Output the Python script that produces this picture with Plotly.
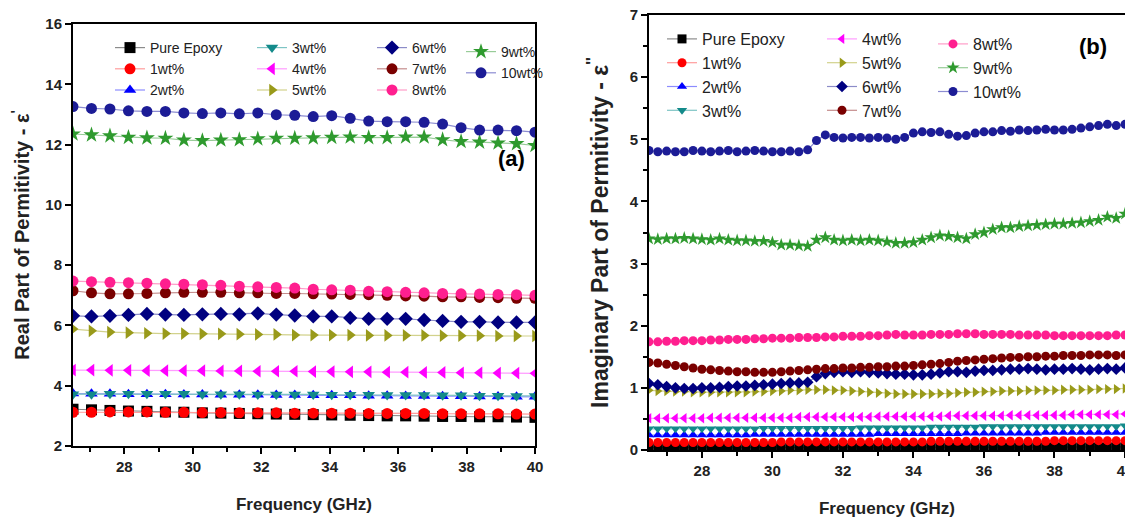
import plotly.graph_objects as go

# ---------------- data ----------------
names = ["Pure Epoxy", "1wt%", "2wt%", "3wt%", "4wt%", "5wt%", "6wt%", "7wt%", "8wt%", "9wt%", "10wt%"]

freq_a = [26.5, 27.04, 27.58, 28.12, 28.66, 29.2, 29.74, 30.28, 30.82, 31.36, 31.9, 32.44, 32.98,
          33.52, 34.06, 34.6, 35.14, 35.68, 36.22, 36.76, 37.3, 37.84, 38.38, 38.92, 39.46, 40.0]

real_pure = [3.22, 3.2, 3.18, 3.16, 3.15, 3.13, 3.12, 3.1, 3.09, 3.08, 3.07, 3.06, 3.05, 3.04, 3.03, 3.02, 3.01, 3.0, 3.0, 2.99, 2.98, 2.98, 2.97, 2.97, 2.96, 2.95]
real_1 = [3.12, 3.12, 3.13, 3.13, 3.13, 3.12, 3.12, 3.11, 3.11, 3.1, 3.1, 3.1, 3.09, 3.09, 3.09, 3.09, 3.08, 3.08, 3.08, 3.08, 3.07, 3.07, 3.07, 3.07, 3.06, 3.06]
real_2 = [3.74, 3.73, 3.73, 3.72, 3.72, 3.72, 3.71, 3.71, 3.7, 3.7, 3.7, 3.69, 3.69, 3.68, 3.68, 3.68, 3.67, 3.67, 3.66, 3.66, 3.65, 3.65, 3.64, 3.64, 3.63, 3.63]
real_3 = [3.72, 3.72, 3.73, 3.73, 3.73, 3.73, 3.73, 3.72, 3.72, 3.72, 3.71, 3.71, 3.71, 3.71, 3.7, 3.7, 3.7, 3.69, 3.69, 3.69, 3.68, 3.68, 3.67, 3.67, 3.66, 3.66]
real_4 = [4.52, 4.52, 4.51, 4.51, 4.5, 4.5, 4.5, 4.5, 4.49, 4.49, 4.48, 4.48, 4.48, 4.47, 4.47, 4.46, 4.46, 4.45, 4.45, 4.44, 4.44, 4.43, 4.43, 4.42, 4.42, 4.41]
real_5 = [5.88, 5.82, 5.78, 5.76, 5.74, 5.73, 5.73, 5.72, 5.72, 5.71, 5.7, 5.7, 5.68, 5.68, 5.68, 5.68, 5.67, 5.67, 5.67, 5.67, 5.66, 5.66, 5.66, 5.65, 5.65, 5.65]
real_6 = [6.32, 6.3, 6.32, 6.35, 6.38, 6.36, 6.35, 6.37, 6.38, 6.37, 6.4, 6.36, 6.33, 6.3, 6.3, 6.25, 6.22, 6.22, 6.22, 6.18, 6.15, 6.12, 6.12, 6.1, 6.1, 6.1]
real_7 = [7.15, 7.08, 7.05, 7.05, 7.06, 7.08, 7.1, 7.1, 7.1, 7.08, 7.08, 7.06, 7.06, 7.05, 7.04, 7.03, 7.02, 7.0, 6.98, 6.97, 6.95, 6.95, 6.93, 6.92, 6.9, 6.9]
real_8 = [7.47, 7.45, 7.43, 7.42, 7.4, 7.38, 7.37, 7.35, 7.33, 7.3, 7.28, 7.26, 7.24, 7.2, 7.18, 7.17, 7.13, 7.12, 7.1, 7.08, 7.06, 7.05, 7.04, 7.03, 7.02, 7.0]
real_9 = [12.35, 12.32, 12.29, 12.24, 12.22, 12.21, 12.15, 12.13, 12.15, 12.16, 12.19, 12.21, 12.21, 12.22, 12.24, 12.25, 12.23, 12.23, 12.25, 12.25, 12.16, 12.1, 12.08, 12.05, 12.03, 11.97]
real_10 = [13.26, 13.2, 13.18, 13.12, 13.1, 13.1, 13.05, 13.03, 13.05, 13.02, 13.05, 12.99, 12.97, 12.93, 12.96, 12.87, 12.78, 12.76, 12.76, 12.74, 12.68, 12.56, 12.48, 12.48, 12.46, 12.41]

freq_b = [26.5, 26.75, 27.0, 27.25, 27.5, 27.75, 28.0, 28.25, 28.5, 28.75, 29.0, 29.25, 29.5, 29.75,
          30.0, 30.25, 30.5, 30.75, 31.0, 31.25, 31.5, 31.75, 32.0, 32.25, 32.5, 32.75, 33.0, 33.25,
          33.5, 33.75, 34.0, 34.25, 34.5, 34.75, 35.0, 35.25, 35.5, 35.75, 36.0, 36.25, 36.5, 36.75,
          37.0, 37.25, 37.5, 37.75, 38.0, 38.25, 38.5, 38.75, 39.0, 39.25, 39.5, 39.75, 40.0]

imag_pure = [0.04, 0.04, 0.04, 0.04, 0.04, 0.04, 0.04, 0.04, 0.04, 0.04, 0.04, 0.04, 0.04, 0.04, 0.04, 0.04, 0.04, 0.04, 0.04,
             0.04, 0.04, 0.04, 0.04, 0.04, 0.04, 0.04, 0.04, 0.04, 0.04, 0.04, 0.05, 0.05, 0.05, 0.05, 0.05, 0.05, 0.05, 0.05,
             0.05, 0.05, 0.05, 0.05, 0.05, 0.05, 0.05, 0.05, 0.05, 0.05, 0.05, 0.05, 0.05, 0.05, 0.05, 0.05, 0.05]
imag_1 = [0.12, 0.12, 0.12, 0.12, 0.12, 0.12, 0.12, 0.12, 0.12, 0.12, 0.12, 0.12, 0.12, 0.12, 0.12, 0.13, 0.13, 0.13, 0.13,
          0.13, 0.13, 0.13, 0.13, 0.13, 0.13, 0.13, 0.13, 0.13, 0.13, 0.13, 0.13, 0.13, 0.14, 0.14, 0.14, 0.14, 0.14, 0.14,
          0.14, 0.14, 0.14, 0.14, 0.14, 0.14, 0.14, 0.14, 0.15, 0.15, 0.15, 0.15, 0.15, 0.15, 0.15, 0.15, 0.15]
imag_2 = [0.24, 0.24, 0.24, 0.24, 0.24, 0.24, 0.24, 0.24, 0.24, 0.24, 0.24, 0.24, 0.25, 0.25, 0.25, 0.25, 0.25, 0.25, 0.25,
          0.25, 0.25, 0.25, 0.25, 0.25, 0.25, 0.25, 0.26, 0.26, 0.26, 0.26, 0.26, 0.26, 0.26, 0.26, 0.26, 0.26, 0.27, 0.27,
          0.27, 0.27, 0.27, 0.27, 0.27, 0.27, 0.27, 0.28, 0.28, 0.28, 0.28, 0.28, 0.28, 0.28, 0.28, 0.28, 0.28]
imag_3 = [0.34, 0.34, 0.34, 0.34, 0.34, 0.34, 0.34, 0.34, 0.34, 0.34, 0.34, 0.34, 0.34, 0.35, 0.35, 0.35, 0.35, 0.35, 0.35,
          0.35, 0.35, 0.35, 0.35, 0.35, 0.36, 0.36, 0.36, 0.36, 0.36, 0.36, 0.36, 0.36, 0.37, 0.37, 0.37, 0.37, 0.37, 0.37,
          0.38, 0.38, 0.38, 0.38, 0.38, 0.38, 0.38, 0.38, 0.38, 0.38, 0.38, 0.38, 0.38, 0.38, 0.38, 0.38, 0.39]
imag_4 = [0.51, 0.51, 0.51, 0.51, 0.51, 0.51, 0.51, 0.52, 0.52, 0.52, 0.52, 0.52, 0.52, 0.52, 0.52, 0.52, 0.52, 0.53, 0.53,
          0.53, 0.53, 0.53, 0.53, 0.53, 0.53, 0.53, 0.54, 0.54, 0.54, 0.54, 0.54, 0.54, 0.54, 0.54, 0.55, 0.55, 0.55, 0.55,
          0.55, 0.55, 0.55, 0.56, 0.56, 0.56, 0.56, 0.56, 0.56, 0.56, 0.57, 0.57, 0.57, 0.57, 0.57, 0.57, 0.58]
imag_5 = [0.96, 0.95, 0.95, 0.94, 0.94, 0.93, 0.93, 0.93, 0.93, 0.93, 0.93, 0.93, 0.94, 0.94, 0.95, 0.95, 0.96, 0.96, 0.97,
          0.97, 0.97, 0.96, 0.96, 0.95, 0.94, 0.93, 0.92, 0.91, 0.9, 0.9, 0.9, 0.9, 0.9, 0.91, 0.91, 0.92, 0.93, 0.93,
          0.94, 0.94, 0.95, 0.95, 0.95, 0.96, 0.96, 0.96, 0.96, 0.97, 0.97, 0.97, 0.97, 0.98, 0.98, 0.98, 0.99]
imag_6 = [1.07, 1.05, 1.02, 1.0, 0.99, 0.99, 1.0, 1.0, 1.01, 1.02, 1.03, 1.03, 1.04, 1.05, 1.06, 1.07, 1.08, 1.08, 1.09,
          1.18, 1.23, 1.25, 1.26, 1.25, 1.26, 1.25, 1.24, 1.23, 1.22, 1.22, 1.21, 1.21, 1.22, 1.24, 1.26, 1.26, 1.25, 1.27,
          1.28, 1.28, 1.29, 1.3, 1.3, 1.31, 1.3, 1.29, 1.3, 1.3, 1.31, 1.3, 1.29, 1.3, 1.31, 1.3, 1.32]
imag_7 = [1.41, 1.4, 1.38, 1.36, 1.34, 1.32, 1.3, 1.29, 1.28, 1.27, 1.26, 1.26, 1.25, 1.25, 1.25, 1.26, 1.27, 1.28, 1.29,
          1.3, 1.31, 1.31, 1.32, 1.32, 1.33, 1.33, 1.34, 1.34, 1.35, 1.35, 1.36, 1.37, 1.38, 1.39, 1.41, 1.43, 1.44, 1.45,
          1.46, 1.47, 1.48, 1.49, 1.49, 1.5, 1.5, 1.51, 1.51, 1.52, 1.52, 1.52, 1.53, 1.53, 1.53, 1.52, 1.53]
imag_8 = [1.74, 1.74, 1.75, 1.75, 1.76, 1.76, 1.76, 1.77, 1.77, 1.78, 1.78, 1.78, 1.79, 1.79, 1.8, 1.8, 1.8, 1.81, 1.81,
          1.81, 1.82, 1.82, 1.83, 1.83, 1.83, 1.84, 1.84, 1.85, 1.86, 1.85, 1.85, 1.85, 1.86, 1.86, 1.86, 1.87, 1.87, 1.87,
          1.86, 1.86, 1.86, 1.86, 1.85, 1.85, 1.85, 1.85, 1.84, 1.84, 1.84, 1.84, 1.84, 1.84, 1.84, 1.85, 1.85]
imag_9 = [3.4, 3.39, 3.4, 3.4, 3.41, 3.4, 3.39, 3.38, 3.4, 3.38, 3.37, 3.37, 3.36, 3.36, 3.34, 3.3, 3.3, 3.29, 3.28,
          3.38, 3.42, 3.38, 3.37, 3.38, 3.37, 3.38, 3.37, 3.35, 3.33, 3.33, 3.34, 3.38, 3.42, 3.45, 3.44, 3.42, 3.4, 3.47,
          3.5, 3.55, 3.58, 3.58, 3.6, 3.61, 3.62, 3.63, 3.64, 3.64, 3.65, 3.66, 3.68, 3.7, 3.75, 3.73, 3.8]
imag_10 = [4.82, 4.8, 4.81, 4.8, 4.8, 4.82, 4.81, 4.8, 4.81, 4.82, 4.8, 4.81, 4.82, 4.81, 4.8, 4.8, 4.81, 4.8, 4.83,
           4.98, 5.07, 5.03, 5.02, 5.03, 5.03, 5.02, 5.03, 5.02, 5.0, 5.03, 5.1, 5.12, 5.11, 5.12, 5.08, 5.05, 5.06, 5.1,
           5.12, 5.12, 5.14, 5.13, 5.15, 5.14, 5.15, 5.16, 5.15, 5.15, 5.16, 5.18, 5.2, 5.22, 5.24, 5.22, 5.24]

real_series = [real_pure, real_1, real_2, real_3, real_4, real_5, real_6, real_7, real_8, real_9, real_10]
imag_series = [imag_pure, imag_1, imag_2, imag_3, imag_4, imag_5, imag_6, imag_7, imag_8, imag_9, imag_10]

# ---------------- styles ----------------
marker_colors = ["#000000", "#ff0000", "#0000ff", "#138a8a", "#ff00ff", "#999a1a",
                 "#000080", "#7a0000", "#ff1f8f", "#2e9a2e", "#1c1c96"]
line_colors = ["#8c8c8c", "#ff9c9c", "#8c8cff", "#7ec4c4", "#ff9cff", "#d2d28c",
               "#8c8cc8", "#c48c8c", "#ff9cc8", "#98cc98", "#8c8cd2"]
symbols = ["square", "circle", "triangle-up", "triangle-down", "triangle-left", "triangle-right",
           "diamond", "circle", "circle", "star", "circle"]

legend_a_cols = [[0, 1, 2], [3, 4, 5], [6, 7, 8], [9, 10]]
legend_b_cols = [[0, 1, 2, 3], [4, 5, 6, 7], [8, 9, 10]]

# the page body has an 8px default margin, so the figure is 8px smaller
# and every page-pixel position is shifted by OFF
OFF = 8
W, H = 1133 - OFF, 518 - OFF
FONT = "Liberation Sans, Arial, sans-serif"

# plot-area page-pixel boxes
ax_a = dict(l=73, r=535, t=24, b=446)
ax_b = dict(l=649, r=1125, t=15, b=450)


def px(x):
    return (x - OFF) / W


def py(y):
    return 1 - (y - OFF) / H


def dom_x(box):
    return [px(box["l"]), px(box["r"])]


def dom_y(box):
    return [py(box["b"]), py(box["t"])]


fig = go.Figure()

legend_of_a = {}
for ci, col in enumerate(legend_a_cols):
    for i in col:
        legend_of_a[i] = "legend" if ci == 0 else f"legend{ci + 1}"
legend_of_b = {}
for ci, col in enumerate(legend_b_cols):
    for i in col:
        legend_of_b[i] = f"legend{ci + 5}"

for i, name in enumerate(names):
    fig.add_trace(go.Scatter(
        x=freq_a, y=real_series[i], mode="lines+markers", name=name,
        xaxis="x", yaxis="y", legend=legend_of_a[i],
        line=dict(color=line_colors[i], width=1.2),
        marker=dict(symbol=symbols[i], size=11 if symbols[i] != "star" else 12,
                    color=marker_colors[i], line=dict(width=0)),
    ))
for i, name in enumerate(names):
    fig.add_trace(go.Scatter(
        x=freq_b, y=imag_series[i], mode="lines+markers", name=name,
        xaxis="x2", yaxis="y2", legend=legend_of_b[i],
        line=dict(color=line_colors[i], width=1.2),
        marker=dict(symbol=symbols[i], size=9 if symbols[i] != "star" else 10,
                    color=marker_colors[i], line=dict(width=0)),
    ))

axis_common = dict(
    showline=True, linecolor="black", linewidth=2, mirror=True,
    ticks="outside", ticklen=6, tickwidth=1.5, tickcolor="black",
    showgrid=False, zeroline=False, ticklabeloverflow="allow",
    tickfont=dict(family=FONT, size=15, color="#222", weight="bold"),
)
xtitle_font = dict(family=FONT, size=17, color="#222", weight="bold")
ytitle_font_a = dict(family=FONT, size=20, color="#222", weight="bold")
ytitle_font_b = dict(family=FONT, size=23, color="#222", weight="bold")
minor_x = dict(tickvals=[27, 29, 31, 33, 35, 37, 39], ticks="outside", ticklen=4, tickwidth=1.5, tickcolor="black")

fig.update_layout(
    width=W, height=H,
    margin=dict(l=0, r=0, t=0, b=0, autoexpand=False),
    paper_bgcolor="white", plot_bgcolor="white",
    xaxis=dict(domain=dom_x(ax_a), anchor="y", range=[26.5, 40], tickvals=[28, 30, 32, 34, 36, 38, 40],
               minor=minor_x,
               title=dict(text="Frequency (GHz)", font=xtitle_font, standoff=24),
               **axis_common),
    yaxis=dict(domain=dom_y(ax_a), anchor="x", range=[2, 16], tickvals=[2, 4, 6, 8, 10, 12, 14, 16],
               title=dict(text="Real Part of Permitivity - ε<sup>'</sup>", font=ytitle_font_a, standoff=12),
               **axis_common),
    xaxis2=dict(domain=dom_x(ax_b), anchor="y2", range=[26.5, 40], tickvals=[28, 30, 32, 34, 36, 38, 40],
                minor=minor_x,
                title=dict(text="Frequency (GHz)", font=xtitle_font, standoff=24),
                **axis_common),
    yaxis2=dict(domain=dom_y(ax_b), anchor="x2", range=[0, 7], tickvals=[0, 1, 2, 3, 4, 5, 6, 7],
                minor=dict(tickvals=[0.5, 1.5, 2.5, 3.5, 4.5, 5.5, 6.5], ticks="outside", ticklen=4,
                           tickwidth=1.5, tickcolor="black"),
                title=dict(text="Imaginary Part of Permitivity - ε<sup>''</sup>", font=ytitle_font_b, standoff=15),
                **axis_common),
)

# legends (one per column, as in the original multi-column legends), page-pixel top-left corners
leg_a_pos = [(110, 32), (252, 32), (372, 32), (461, 36)]
for ci, (lx, ly) in enumerate(leg_a_pos):
    key = "legend" if ci == 0 else f"legend{ci + 1}"
    fig.update_layout({key: dict(x=px(lx), y=py(ly), xanchor="left", yanchor="top",
                                 bgcolor="rgba(0,0,0,0)", borderwidth=0,
                                 font=dict(family=FONT, size=14, color="#222"),
                                 itemwidth=30, tracegroupgap=0)})
leg_b_pos = [(662, 22), (822, 22), (933, 27)]
for ci, (lx, ly) in enumerate(leg_b_pos):
    key = f"legend{ci + 5}"
    fig.update_layout({key: dict(x=px(lx), y=py(ly), xanchor="left", yanchor="top",
                                 bgcolor="rgba(0,0,0,0)", borderwidth=0,
                                 font=dict(family=FONT, size=16, color="#222"),
                                 itemwidth=30, tracegroupgap=0)})

fig.add_annotation(text="(a)", x=39.3, y=11.55, xref="x", yref="y",
                   showarrow=False, font=dict(family=FONT, size=22, color="black", weight="bold"))
fig.add_annotation(text="(b)", x=39.1, y=6.5, xref="x2", yref="y2",
                   showarrow=False, font=dict(family=FONT, size=22, color="black", weight="bold"))

fig.write_html("out.html")
